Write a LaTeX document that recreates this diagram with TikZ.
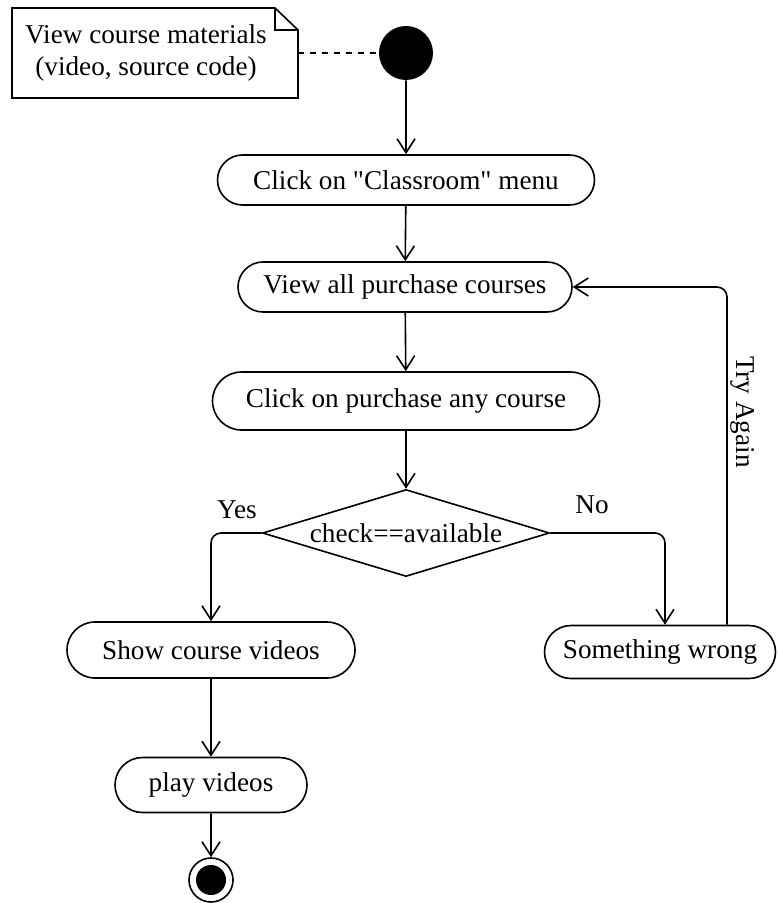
\documentclass[tikz,border=0pt]{standalone}
\usepackage{fontspec}
\setmainfont{Liberation Serif}
\newfontfamily\plainquote{Liberation Serif}
\usetikzlibrary{arrows.meta}
\usetikzlibrary{shapes.misc, shapes.geometric}

\tikzset{
    action/.style={shape=rounded rectangle, draw=black, line width=0.8pt, minimum height=25pt, inner sep=0pt},
    flow/.style={draw=black, line width=0.8pt, -{Straight Barb[length=7pt, width=9pt]}}
}

\begin{document}
\begin{tikzpicture}[x=0.5pt, y=-0.5pt, font=\fontsize{13.6}{16}\selectfont]
        \useasboundingbox (0,0) rectangle (778,903);

                    % note and start
                    \draw[line width=0.8pt] (12,98) -- (12,8) -- (275,8) -- (298,30) -- (298,98) -- cycle;
                    \draw[line width=0.8pt] (275,8) -- (275,30) -- (298,30);
                    \node[align=center] (note) at (146,53) {View course materials\\ (video, source code)};
                    \coordinate (noteE) at (298,53);
                    \node[shape=circle, fill=black, minimum size=27pt, inner sep=0pt] (start) at (406,53) {};
                    \draw[line width=0.8pt, dashed] (noteE) -- (start);

                    % actions
                    \node[action, minimum width=188.5pt] (classroom) at (406,180) {Click on {\plainquote"}Classroom{\plainquote"} menu};
                    \node[action, minimum width=167pt] (viewall) at (405,287) {View all purchase courses};
                    \node[action, minimum width=193.5pt, minimum height=29pt] (purchase) at (406,401) {Click on purchase any course};
                    \node[shape=diamond, draw=black, line width=0.8pt, minimum width=143.5pt, minimum height=43.5pt, inner sep=0pt] (check) at (406,533) {};
                    \node (checktext) at (check) {check==available};
                    \node[action, minimum width=144pt, minimum height=28pt] (show) at (211,650) {Show course videos};
                    \node[action, minimum width=115.5pt, minimum height=26.5pt] (wrong) at (660,652) {Something wrong};
                    \node[action, minimum width=96pt, minimum height=27.5pt] (play) at (211,785) {play videos};
                    \node[shape=circle, draw=black, line width=0.8pt, minimum size=22pt, inner sep=0pt] (end) at (211,880) {};
                    \node[shape=circle, fill=black, minimum size=15pt, inner sep=0pt] (enddot) at (end) {};

                    % flows
                    \draw[flow] (start) -- (classroom);
                    \draw[flow] (classroom) -- (viewall);
                    \draw[flow] (viewall) -- (purchase);
                    \draw[flow] (purchase) -- (check);
                    \draw[flow, rounded corners=5pt] (check.west) -| (show.north);
                    \draw[flow, rounded corners=5pt] (check.east) -| ([xshift=2.5pt]wrong.north);
                    \draw[flow, rounded corners=5pt] ([xshift=33.5pt]wrong.north) |- (viewall.east)
                        node[pos=0.315, anchor=south, rotate=-90, inner sep=1.5pt] {Try Again};
                    \draw[flow] (show) -- (play);
                    \draw[flow] (play) -- (end);

                    \node (yes) at (237,510) {Yes};
                    \node (no) at (592,505) {No};

                \end{tikzpicture}
\end{document}
